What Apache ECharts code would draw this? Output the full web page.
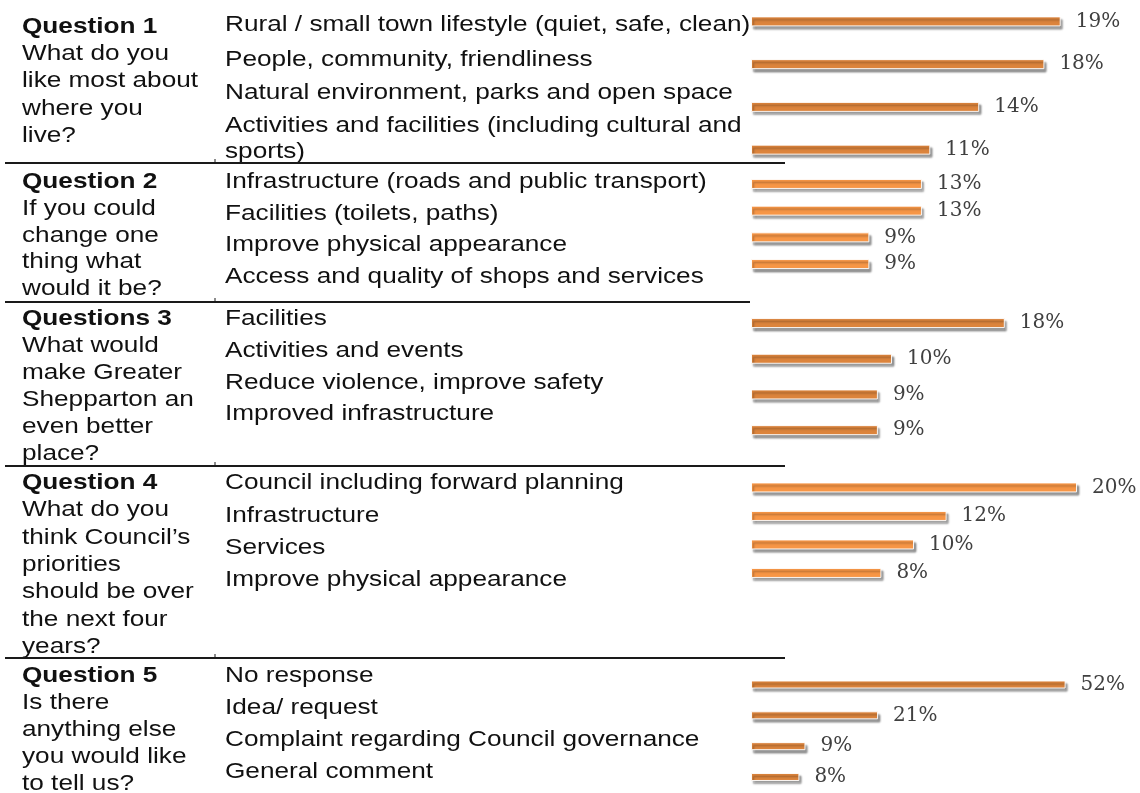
<!DOCTYPE html>
<html>
<head>
<meta charset="utf-8">
<title>Community survey – top responses</title>
<script src="https://cdn.jsdelivr.net/npm/echarts@6.0.0/dist/echarts.min.js"></script>
<style>
  html, body { margin: 0; padding: 0; background: #ffffff; }
  #chart { width: 1140px; height: 793px; }
</style>
</head>
<body>
<div id="chart"></div>
<script>
// ---- Survey content -------------------------------------------------------
const questionTitles = ['Question 1', 'Question 2', 'Questions 3', 'Question 4', 'Question 5'];

const questionPrompts = [
  ['What do you', 'like most about', 'where you', 'live?'],
  ['If you could', 'change one', 'thing what', 'would it be?'],
  ['What would', 'make Greater', 'Shepparton an', 'even better', 'place?'],
  ['What do you', 'think Council\u2019s', 'priorities', 'should be over', 'the next four', 'years?'],
  ['Is there', 'anything else', 'you would like', 'to tell us?']
];

const q1Answers = ['Rural / small town lifestyle (quiet, safe, clean)', 'People, community, friendliness',
  'Natural environment, parks and open space', 'Activities and facilities (including cultural and\nsports)'];
const q2Answers = ['Infrastructure (roads and public transport)', 'Facilities (toilets, paths)',
  'Improve physical appearance', 'Access and quality of shops and services'];
const q3Answers = ['Facilities', 'Activities and events', 'Reduce violence, improve safety', 'Improved infrastructure'];
const q4Answers = ['Council including forward planning', 'Infrastructure', 'Services', 'Improve physical appearance'];
const q5Answers = ['No response', 'Idea/ request', 'Complaint regarding Council governance', 'General comment'];

// Share of responses (%)
const q1Values = [19, 18, 14, 11];
const q2Values = [13, 13, 9, 9];
const q3Values = [18, 10, 9, 9];
const q4Values = [20, 12, 10, 8];
const q5Values = [52, 21, 9, 8];

const answers = [q1Answers, q2Answers, q3Answers, q4Answers, q5Answers];
const values = [q1Values, q2Values, q3Values, q4Values, q5Values];

// ---- Page layout ----------------------------------------------------------
const DARK = '#dc843c';
const LIGHT = '#f79646';
const TEXT_FONT = 'Liberation Sans, Arial, sans-serif';
const TEXT_SIZE = 22;
const TEXT_STRETCH = 1.19;     // wide set of the table text
const TEXT_SHIFT = 2;
const LEFT_X = 22;
const MID_X = 225;
const BAR_LEFT = 751;

const layout = [
  { titleY: 25,  promptStep: 27.2, answerY: [23, 58, 91, 124],   wrapStep: 26,
    gridTop: 0,     gridHeight: 171,   gridWidth: 326, axisMax: 20, color: DARK,  barWidth: 10 },
  { titleY: 180, promptStep: 26.8, answerY: [180, 212, 243, 275], wrapStep: 26,
    gridTop: 170.6, gridHeight: 106.8, gridWidth: 263, axisMax: 20, color: LIGHT, barWidth: 10 },
  { titleY: 317, promptStep: 27,   answerY: [317, 349, 381, 412], wrapStep: 26,
    gridTop: 305.2, gridHeight: 142.8, gridWidth: 282, axisMax: 20, color: DARK,  barWidth: 10 },
  { titleY: 481, promptStep: 27.3, answerY: [481, 514, 546, 578], wrapStep: 26,
    gridTop: 473.2, gridHeight: 114,   gridWidth: 326, axisMax: 20, color: LIGHT, barWidth: 10 },
  { titleY: 674, promptStep: 27,   answerY: [674, 706, 738, 770], wrapStep: 26,
    gridTop: 669.1, gridHeight: 123.3, gridWidth: 363, axisMax: 60, color: DARK,  barWidth: 8 }
];

// Horizontal rules between the question blocks
const rules = [
  { y: 163, x2: 785 },
  { y: 302, x2: 750 },
  { y: 466, x2: 785 },
  { y: 658, x2: 785 }
];

function tableText(str, x, y, bold) {
  return {
    type: 'text',
    x: x,
    y: y + TEXT_SHIFT,
    scaleX: TEXT_STRETCH,
    silent: true,
    style: {
      text: str,
      x: 0,
      y: 0,
      fill: '#111111',
      fontFamily: TEXT_FONT,
      fontSize: TEXT_SIZE,
      fontWeight: bold ? 'bold' : 'normal',
      textAlign: 'left',
      textVerticalAlign: 'middle'
    }
  };
}

const graphics = [];
layout.forEach((L, qi) => {
  graphics.push(tableText(questionTitles[qi], LEFT_X, L.titleY, true));
  questionPrompts[qi].forEach((line, li) => {
    graphics.push(tableText(line, LEFT_X, L.titleY + (li + 1) * L.promptStep, false));
  });
  answers[qi].forEach((ans, ai) => {
    ans.split('\n').forEach((line, k) => {
      graphics.push(tableText(line, MID_X, L.answerY[ai] + k * L.wrapStep, false));
    });
  });
});
rules.forEach(r => {
  graphics.push({
    type: 'line', silent: true,
    shape: { x1: 5, y1: r.y, x2: r.x2, y2: r.y },
    style: { stroke: '#1a1a1a', lineWidth: 2 }
  });
  graphics.push({
    type: 'line', silent: true,
    shape: { x1: 215, y1: r.y - 4, x2: 215, y2: r.y },
    style: { stroke: '#1a1a1a', lineWidth: 1 }
  });
});

const grids = [], xAxes = [], yAxes = [], series = [];
layout.forEach((L, qi) => {
  grids.push({ left: BAR_LEFT, top: L.gridTop, width: L.gridWidth, height: L.gridHeight, containLabel: false });
  xAxes.push({ type: 'value', gridIndex: qi, min: 0, max: L.axisMax, show: false });
  yAxes.push({ type: 'category', gridIndex: qi, inverse: true, show: false,
               data: answers[qi].map(a => a.replace('\n', ' ')) });
  series.push({
    type: 'bar',
    xAxisIndex: qi,
    yAxisIndex: qi,
    data: values[qi],
    barWidth: L.barWidth,
    silent: true,
    itemStyle: {
      color: L.color,
      borderColor: 'rgba(255,255,255,0.9)',
      borderWidth: 1,
      shadowColor: 'rgba(0,0,0,0.4)',
      shadowBlur: 2,
      shadowOffsetX: 2,
      shadowOffsetY: 3
    },
    label: {
      show: true,
      position: 'right',
      distance: 15,
      formatter: '{c}%',
      fontFamily: 'DejaVu Serif, serif',
      fontSize: 20,
      color: '#404040'
    }
  });
});

const chart = echarts.init(document.getElementById('chart'), null, { renderer: 'canvas' });
chart.setOption({
  backgroundColor: '#ffffff',
  animation: false,
  grid: grids,
  xAxis: xAxes,
  yAxis: yAxes,
  series: series,
  graphic: { elements: graphics }
});
</script>
</body>
</html>
